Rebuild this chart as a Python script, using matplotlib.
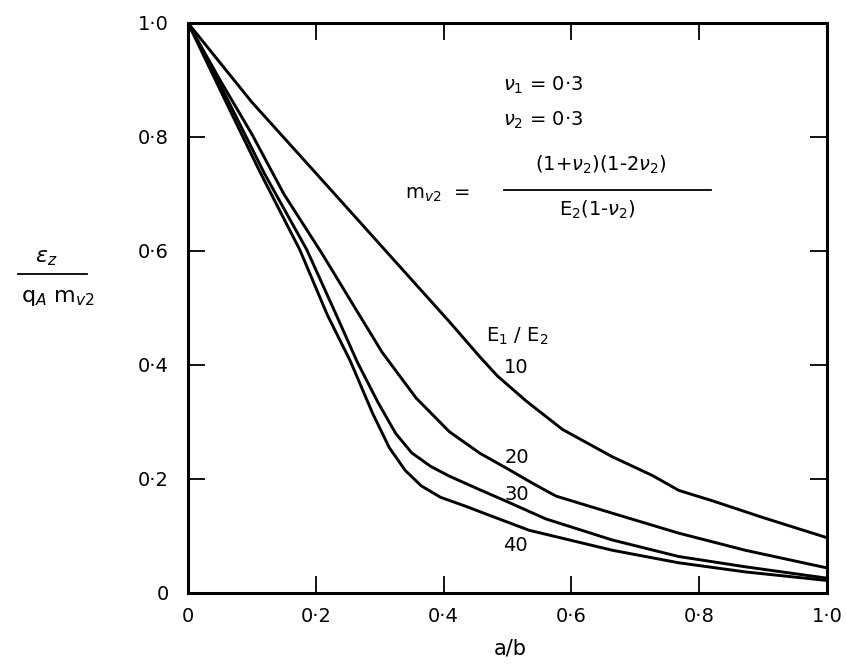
import matplotlib.pyplot as plt
from matplotlib.lines import Line2D

# E1/E2 = 10, 20, 30, 40
x10 = [0.0, 0.10, 0.203, 0.30, 0.409, 0.457, 0.484, 0.529, 0.586, 0.664, 0.727, 0.768, 0.820, 0.898, 1.0]
y10 = [1.0, 0.861, 0.733, 0.612, 0.476, 0.414, 0.381, 0.337, 0.287, 0.239, 0.206, 0.180, 0.162, 0.133, 0.097]

x20 = [0.0, 0.05, 0.10, 0.15, 0.21, 0.268, 0.304, 0.357, 0.409, 0.457, 0.50, 0.540, 0.576, 0.664, 0.768, 0.872, 1.0]
y20 = [1.0, 0.90, 0.805, 0.70, 0.595, 0.488, 0.422, 0.342, 0.283, 0.245, 0.218, 0.192, 0.170, 0.140, 0.105, 0.075, 0.044]

x30 = [0.0, 0.06, 0.12, 0.186, 0.232, 0.265, 0.297, 0.325, 0.35, 0.38, 0.409, 0.457, 0.50, 0.560, 0.664, 0.768, 0.872, 1.0]
y30 = [1.0, 0.87, 0.735, 0.602, 0.488, 0.405, 0.335, 0.280, 0.246, 0.222, 0.205, 0.181, 0.160, 0.130, 0.093, 0.064, 0.046, 0.026]

x40 = [0.0, 0.06, 0.112, 0.175, 0.218, 0.254, 0.289, 0.315, 0.34, 0.365, 0.395, 0.435, 0.47, 0.534, 0.664, 0.768, 0.872, 1.0]
y40 = [1.0, 0.86, 0.74, 0.602, 0.488, 0.407, 0.315, 0.255, 0.215, 0.188, 0.168, 0.152, 0.137, 0.110, 0.075, 0.053, 0.037, 0.022]

curve_labels = ["10", "20", "30", "40"]
label_pos = [(0.513, 0.395), (0.515, 0.237), (0.515, 0.172), (0.513, 0.084)]

ticks = [0.0, 0.2, 0.4, 0.6, 0.8, 1.0]
tick_labels = ["0", "0·2", "0·4", "0·6", "0·8", "1·0"]

plt.rcParams['font.family'] = ['DejaVu Sans']
plt.rcParams['mathtext.fontset'] = 'dejavusans'

fig = plt.figure(figsize=(8.46, 6.66), dpi=100)
ax = fig.add_axes([188 / 846, 1 - 593 / 666, 639 / 846, 570 / 666])

for xs, ys in [(x10, y10), (x20, y20), (x30, y30), (x40, y40)]:
    ax.plot(xs, ys, color='k', lw=2.1, solid_joinstyle='round')

for lab, (lx, ly) in zip(curve_labels, label_pos):
    ax.text(lx, ly, lab, fontsize=14, ha='center', va='center')
ax.text(0.515, 0.45, r"E$_1$ / E$_2$", fontsize=14, ha='center', va='center')

# parameter block
ax.text(0.493, 0.89, r"$\nu_1$ = 0·3", fontsize=14, ha='left', va='center')
ax.text(0.493, 0.83, r"$\nu_2$ = 0·3", fontsize=14, ha='left', va='center')
ax.text(0.340, 0.700, r"m$_{v2}$  =", fontsize=14, ha='left', va='center')
ax.text(0.646, 0.751, r"(1+$\nu_2$)(1-2$\nu_2$)", fontsize=14, ha='center', va='center')
ax.plot([0.494, 0.818], [0.707, 0.707], color='k', lw=1.3)
ax.text(0.640, 0.672, r"E$_2$(1-$\nu_2$)", fontsize=14, ha='center', va='center')

ax.set_xlim(0, 1)
ax.set_ylim(0, 1)
ax.set_xticks(ticks)
ax.set_xticklabels(tick_labels, fontsize=14)
ax.set_yticks(ticks)
ax.set_yticklabels(tick_labels, fontsize=14)
ax.tick_params(direction='in', top=True, right=True, length=12, width=1.3)
ax.tick_params(axis='x', pad=10)
ax.tick_params(axis='y', pad=14)
for s in ax.spines.values():
    s.set_linewidth(2.2)

# axis labels
fig.text(510 / 846, 1 - 648 / 666, "a/b", fontsize=15, ha='center', va='center')
fig.text(46 / 846, 1 - 258 / 666, r"$\varepsilon_z$", fontsize=16, ha='center', va='center')
fig.add_artist(Line2D([18 / 846, 87 / 846], [1 - 274 / 666] * 2, color='k', lw=1.3))
fig.text(58 / 846, 1 - 298 / 666, r"q$_A$ m$_{v2}$", fontsize=16, ha='center', va='center')

fig.savefig("out.png", dpi=100)
